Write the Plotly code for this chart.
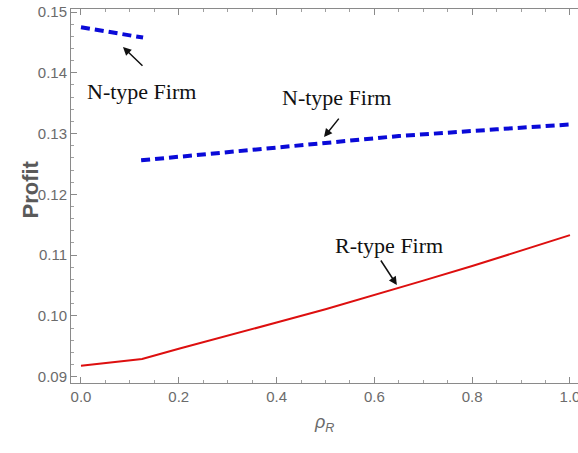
import plotly.graph_objects as go

# Data
n_upper_x = [0.0, 0.04, 0.09, 0.127]
n_upper_y = [0.1475, 0.1470, 0.1464, 0.1458]

n_lower_x = [0.123, 0.25, 0.45, 0.65, 0.85, 1.0]
n_lower_y = [0.1256, 0.1266, 0.1281, 0.1296, 0.1307, 0.1315]

r_x = [0.0, 0.05, 0.1, 0.125, 0.2, 0.3, 0.4, 0.5, 0.6, 0.7, 0.8, 0.9, 1.0]
r_y = [0.0918, 0.0922, 0.0926, 0.0929, 0.0946, 0.0967, 0.0989, 0.1011,
       0.1034, 0.1058, 0.1082, 0.1107, 0.1133]

x_ticks = [0.0, 0.2, 0.4, 0.6, 0.8, 1.0]
x_ticklabels = ["0.0", "0.2", "0.4", "0.6", "0.8", "1.0"]
y_ticks = [0.09, 0.10, 0.11, 0.12, 0.13, 0.14, 0.15]
y_ticklabels = ["0.09", "0.10", "0.11", "0.12", "0.13", "0.14", "0.15"]

labels = ["N-type Firm", "N-type Firm", "R-type Firm"]
label_pos = [(0.1237, 0.13699), (0.5225, 0.13600), (0.630, 0.11166)]
arrow_heads = [(0.0859, 0.14423), (0.497, 0.12942), (0.646, 0.10508)]
arrow_tails = [(21, 20), (16, -20), (-17, -26)]

BLUE = "#0a0ad8"
RED = "#dd0f0f"
GREY = "#6b6b6b"
AX = "#8a8a8a"

fig = go.Figure()
fig.add_trace(go.Scatter(x=n_upper_x, y=n_upper_y, mode="lines",
                         line=dict(color=BLUE, width=4, dash="9px,5px"),
                         showlegend=False))
fig.add_trace(go.Scatter(x=n_lower_x, y=n_lower_y, mode="lines",
                         line=dict(color=BLUE, width=4, dash="9px,5px"),
                         showlegend=False))
fig.add_trace(go.Scatter(x=r_x, y=r_y, mode="lines",
                         line=dict(color=RED, width=2),
                         showlegend=False))

W, H = 578, 453
L, R, T, B = 71, 0, 9, 70
pw, ph = W - L - R, H - T - B

annotations = []
for t, (lx, ly) in zip(labels, label_pos):
    annotations.append(dict(x=lx, y=ly, xref="x", yref="y", text=t,
                            showarrow=False,
                            font=dict(family="Liberation Serif, Times New Roman, serif",
                                      size=22, color="#111111")))
for (hx, hy), (ax, ay) in zip(arrow_heads, arrow_tails):
    annotations.append(dict(x=hx, y=hy, xref="x", yref="y", text="",
                            showarrow=True, ax=ax, ay=ay,
                            arrowhead=2, arrowsize=1.1, arrowwidth=1.5,
                            arrowcolor="#111111"))


def paper_xy(px, py):
    return (px - L) / pw, 1 - (py - T) / ph


x0, y0 = paper_xy(16, 190)
annotations.append(dict(x=x0, y=y0, xref="paper", yref="paper", text="<b>Profit</b>",
                        textangle=-90, showarrow=False,
                        font=dict(family="Liberation Sans, Arial", size=22, color="#5a5a5a")))
x1, y1 = paper_xy(324, 437)
annotations.append(dict(x=x1, y=y1, xref="paper", yref="paper",
                        text="<i>ρ</i><sub><i>R</i></sub>", showarrow=False,
                        font=dict(family="Liberation Sans, Arial", size=18, color=GREY)))

fig.update_layout(
    width=W, height=H,
    margin=dict(l=L, r=R, t=T, b=B, autoexpand=False),
    plot_bgcolor="white", paper_bgcolor="white",
    annotations=annotations,
    xaxis=dict(range=[-0.0204, 1.0164], tickvals=x_ticks, ticktext=x_ticklabels,
               automargin=False,
               showgrid=False, zeroline=False, showline=True, linecolor=AX,
               linewidth=1, ticks="inside", ticklen=6, tickcolor=AX, mirror="ticks",
               ticklabeloverflow="allow",
               tickfont=dict(family="Liberation Sans, Arial", size=15, color=GREY),
               minor=dict(dtick=0.05, ticks="inside", ticklen=3, tickcolor="#a0a0a0")),
    yaxis=dict(range=[0.08896, 0.1505], tickvals=y_ticks, ticktext=y_ticklabels,
               automargin=False,
               showgrid=False, zeroline=False, showline=True, linecolor=AX,
               linewidth=1, ticks="inside", ticklen=6, tickcolor=AX, mirror=False,
               ticklabeloverflow="allow",
               tickfont=dict(family="Liberation Sans, Arial", size=15, color=GREY),
               minor=dict(dtick=0.002, ticks="inside", ticklen=3, tickcolor="#a0a0a0")),
)

# remove the default 8px page margin so the figure sits at the window origin
fig.write_html("out.html",
               config={"displayModeBar": False},
               post_script="document.body.style.margin='0';"
                           "document.body.style.overflow='hidden';")
